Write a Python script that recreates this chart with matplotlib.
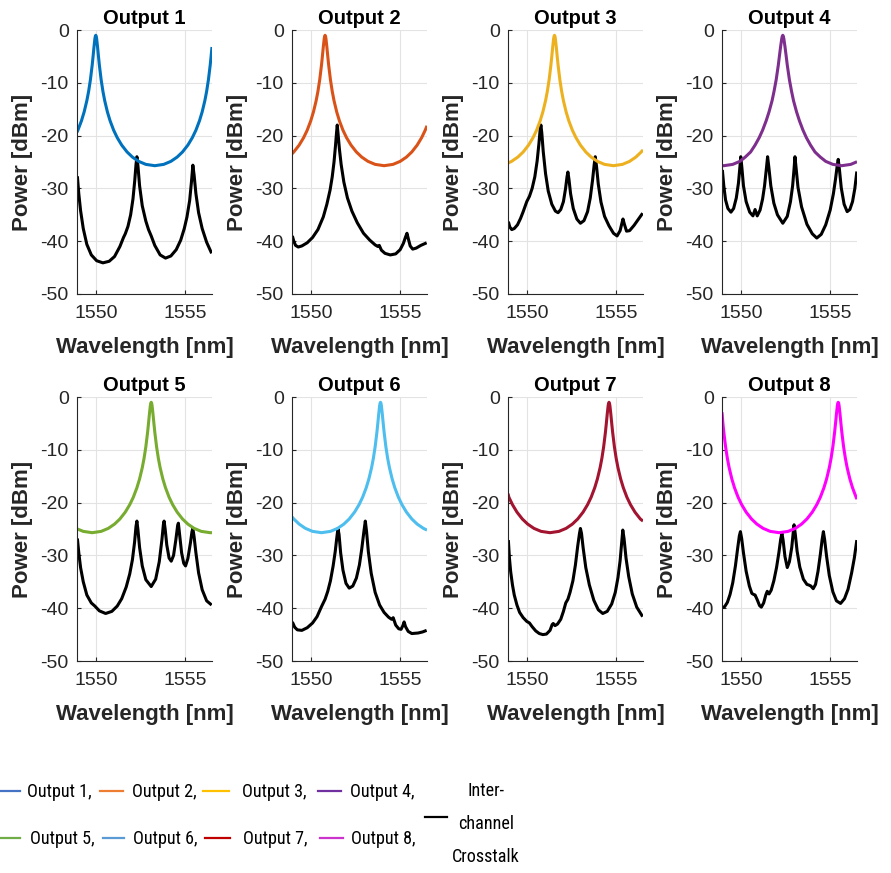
import matplotlib
matplotlib.use("Agg")
import matplotlib.pyplot as plt
from matplotlib import font_manager
from matplotlib.lines import Line2D

# ---------------- data ----------------
TITLES = ["Output 1", "Output 2", "Output 3", "Output 4",
          "Output 5", "Output 6", "Output 7", "Output 8"]
CURVE_COLORS = ["#0072BD", "#D95319", "#EDB120", "#7E2F8E",
                "#77AC30", "#4DBEEE", "#A2142F", "#FF00FF"]
LEGEND_COLORS = ["#4472C4", "#ED7D31", "#FFC000", "#7030A0",
                 "#70AD47", "#5B9BD5", "#C00000", "#CC33CC"]
LEGEND_LABELS = ["Output 1,", "Output 2,", "Output 3,", "Output 4,",
                 "Output 5,", "Output 6,", "Output 7,", "Output 8,"]
XTALK_LABEL = ["Inter-", "channel", "Crosstalk"]
XTICKS = [1550, 1555]
YTICKS = [0, -10, -20, -30, -40, -50]

OUT1 = [(1548.95, -19.36), (1549.0, -18.98), (1549.2, -17.19), (1549.35, -15.51), (1549.5, -13.39),
        (1549.6, -11.62), (1549.7, -9.42), (1549.8, -6.63), (1549.85, -4.97), (1549.9, -3.22),
        (1549.95, -1.67), (1549.975, -1.18), (1550.0, -1.0), (1550.025, -1.18), (1550.05, -1.67),
        (1550.1, -3.22), (1550.15, -4.97), (1550.2, -6.63), (1550.3, -9.42), (1550.4, -11.62),
        (1550.5, -13.39), (1550.65, -15.51), (1550.8, -17.19), (1551.0, -18.98), (1551.2, -20.39),
        (1551.45, -21.8), (1551.75, -23.1), (1552.05, -24.07), (1552.4, -24.88), (1552.8, -25.45),
        (1553.3, -25.7), (1553.8, -25.45), (1554.2, -24.88), (1554.55, -24.07), (1554.85, -23.1),
        (1555.15, -21.8), (1555.4, -20.39), (1555.6, -18.98), (1555.8, -17.19), (1555.95, -15.51),
        (1556.1, -13.39), (1556.2, -11.62), (1556.3, -9.42), (1556.4, -6.63), (1556.45, -4.97),
        (1556.5, -3.22)]
OUT2 = [(1548.95, -23.45), (1549.05, -23.1), (1549.35, -21.8), (1549.6, -20.39), (1549.8, -18.98),
        (1550.0, -17.19), (1550.15, -15.51), (1550.3, -13.39), (1550.4, -11.62), (1550.5, -9.42),
        (1550.6, -6.63), (1550.65, -4.97), (1550.7, -3.22), (1550.75, -1.67), (1550.775, -1.18),
        (1550.8, -1.0), (1550.825, -1.18), (1550.85, -1.67), (1550.9, -3.22), (1550.95, -4.97),
        (1551.0, -6.63), (1551.1, -9.42), (1551.2, -11.62), (1551.3, -13.39), (1551.45, -15.51),
        (1551.6, -17.19), (1551.8, -18.98), (1552.0, -20.39), (1552.25, -21.8), (1552.55, -23.1),
        (1552.85, -24.07), (1553.2, -24.88), (1553.6, -25.45), (1554.1, -25.7), (1554.6, -25.45),
        (1555.0, -24.88), (1555.35, -24.07), (1555.65, -23.1), (1555.95, -21.8), (1556.2, -20.39),
        (1556.4, -18.98), (1556.5, -18.14)]
OUT3 = [(1548.95, -25.21), (1549.15, -24.88), (1549.5, -24.07), (1549.8, -23.1), (1550.1, -21.8),
        (1550.35, -20.39), (1550.55, -18.98), (1550.75, -17.19), (1550.9, -15.51), (1551.05, -13.39),
        (1551.15, -11.62), (1551.25, -9.42), (1551.35, -6.63), (1551.4, -4.97), (1551.45, -3.22),
        (1551.5, -1.67), (1551.525, -1.18), (1551.55, -1.0), (1551.575, -1.18), (1551.6, -1.67),
        (1551.65, -3.22), (1551.7, -4.97), (1551.75, -6.63), (1551.85, -9.42), (1551.95, -11.62),
        (1552.05, -13.39), (1552.2, -15.51), (1552.35, -17.19), (1552.55, -18.98), (1552.75, -20.39),
        (1553.0, -21.8), (1553.3, -23.1), (1553.6, -24.07), (1553.95, -24.88), (1554.35, -25.45),
        (1554.85, -25.7), (1555.35, -25.45), (1555.75, -24.88), (1556.1, -24.07), (1556.4, -23.1),
        (1556.5, -22.7)]
OUT4 = [(1548.95, -25.68), (1549.05, -25.7), (1549.55, -25.45), (1549.95, -24.88), (1550.25, -24.07),
        (1550.55, -23.1), (1550.8, -21.8), (1551.03, -20.39), (1551.22, -18.98), (1551.42, -17.19),
        (1551.58, -15.51), (1551.75, -13.39), (1551.86, -11.62), (1551.98, -9.42), (1552.1, -6.63),
        (1552.16, -4.97), (1552.225, -3.22), (1552.29, -1.67), (1552.32, -1.18), (1552.35, -1.0),
        (1552.38, -1.18), (1552.41, -1.67), (1552.475, -3.22), (1552.54, -4.97), (1552.6, -6.63),
        (1552.72, -9.42), (1552.84, -11.62), (1552.95, -13.39), (1553.12, -15.51), (1553.28, -17.19),
        (1553.48, -18.98), (1553.67, -20.39), (1553.9, -21.8), (1554.15, -23.1), (1554.45, -24.07),
        (1554.75, -24.88), (1555.15, -25.45), (1555.65, -25.7), (1556.15, -25.45), (1556.5, -24.95)]
OUT5 = [(1548.95, -24.97), (1549.3, -25.45), (1549.8, -25.7), (1550.3, -25.45), (1550.7, -24.88),
        (1551.05, -24.07), (1551.35, -23.1), (1551.65, -21.8), (1551.9, -20.39), (1552.1, -18.98),
        (1552.3, -17.19), (1552.45, -15.51), (1552.6, -13.39), (1552.7, -11.62), (1552.8, -9.42),
        (1552.9, -6.63), (1552.95, -4.97), (1553.0, -3.22), (1553.05, -1.67), (1553.075, -1.18),
        (1553.1, -1.0), (1553.125, -1.18), (1553.15, -1.67), (1553.2, -3.22), (1553.25, -4.97),
        (1553.3, -6.63), (1553.4, -9.42), (1553.5, -11.62), (1553.6, -13.39), (1553.75, -15.51),
        (1553.9, -17.19), (1554.1, -18.98), (1554.3, -20.39), (1554.55, -21.8), (1554.85, -23.1),
        (1555.15, -24.07), (1555.5, -24.88), (1555.9, -25.45), (1556.4, -25.7), (1556.5, -25.69)]
OUT6 = [(1548.95, -22.7), (1549.05, -23.1), (1549.35, -24.07), (1549.7, -24.88), (1550.1, -25.45),
        (1550.6, -25.7), (1551.1, -25.45), (1551.5, -24.88), (1551.85, -24.07), (1552.15, -23.1),
        (1552.45, -21.8), (1552.7, -20.39), (1552.9, -18.98), (1553.1, -17.19), (1553.25, -15.51),
        (1553.4, -13.39), (1553.5, -11.62), (1553.6, -9.42), (1553.7, -6.63), (1553.75, -4.97),
        (1553.8, -3.22), (1553.85, -1.67), (1553.875, -1.18), (1553.9, -1.0), (1553.925, -1.18),
        (1553.95, -1.67), (1554.0, -3.22), (1554.05, -4.97), (1554.1, -6.63), (1554.2, -9.42),
        (1554.3, -11.62), (1554.4, -13.39), (1554.55, -15.51), (1554.7, -17.19), (1554.9, -18.98),
        (1555.1, -20.39), (1555.35, -21.8), (1555.65, -23.1), (1555.95, -24.07), (1556.3, -24.88),
        (1556.5, -25.21)]
OUT7 = [(1548.95, -18.3), (1549.0, -18.98), (1549.2, -20.39), (1549.45, -21.8), (1549.75, -23.1),
        (1550.05, -24.07), (1550.4, -24.88), (1550.8, -25.45), (1551.3, -25.7), (1551.8, -25.45),
        (1552.2, -24.88), (1552.55, -24.07), (1552.85, -23.1), (1553.15, -21.8), (1553.4, -20.39),
        (1553.6, -18.98), (1553.8, -17.19), (1553.95, -15.51), (1554.1, -13.39), (1554.2, -11.62),
        (1554.3, -9.42), (1554.4, -6.63), (1554.45, -4.97), (1554.5, -3.22), (1554.55, -1.67),
        (1554.575, -1.18), (1554.6, -1.0), (1554.625, -1.18), (1554.65, -1.67), (1554.7, -3.22),
        (1554.75, -4.97), (1554.8, -6.63), (1554.9, -9.42), (1555.0, -11.62), (1555.1, -13.39),
        (1555.25, -15.51), (1555.4, -17.19), (1555.6, -18.98), (1555.8, -20.39), (1556.05, -21.8),
        (1556.35, -23.1), (1556.5, -23.5)]
OUT8 = [(1548.95, -2.9), (1549.0, -4.97), (1549.05, -6.63), (1549.15, -9.42), (1549.25, -11.62),
        (1549.35, -13.39), (1549.5, -15.51), (1549.65, -17.19), (1549.85, -18.98), (1550.05, -20.39),
        (1550.3, -21.8), (1550.6, -23.1), (1550.9, -24.07), (1551.25, -24.88), (1551.65, -25.45),
        (1552.15, -25.7), (1552.65, -25.45), (1553.05, -24.88), (1553.4, -24.07), (1553.7, -23.1),
        (1554.0, -21.8), (1554.25, -20.39), (1554.45, -18.98), (1554.65, -17.19), (1554.8, -15.51),
        (1554.95, -13.39), (1555.05, -11.62), (1555.15, -9.42), (1555.25, -6.63), (1555.3, -4.97),
        (1555.35, -3.22), (1555.4, -1.67), (1555.425, -1.18), (1555.45, -1.0), (1555.475, -1.18),
        (1555.5, -1.67), (1555.55, -3.22), (1555.6, -4.97), (1555.65, -6.63), (1555.75, -9.42),
        (1555.85, -11.62), (1555.95, -13.39), (1556.1, -15.51), (1556.25, -17.19), (1556.45, -18.98),
        (1556.5, -19.36)]

XTALK1 = [(1548.97, -27.7), (1549.05, -31.0), (1549.15, -34.2), (1549.3, -37.6), (1549.5, -40.6), (1549.75, -42.6),
          (1550.05, -43.7), (1550.4, -44.1), (1550.75, -43.8), (1551.05, -42.9), (1551.35, -41.0), (1551.55, -39.3),
          (1551.65, -38.6), (1551.8, -37.2), (1551.95, -35.0), (1552.08, -32.0), (1552.18, -28.5), (1552.25, -25.5),
          (1552.3, -24.0), (1552.36, -25.8), (1552.45, -29.5), (1552.6, -33.3), (1552.8, -36.2), (1552.95, -37.8),
          (1553.1, -39.0), (1553.3, -40.8), (1553.6, -42.6), (1553.9, -43.2), (1554.2, -42.8), (1554.5, -41.6),
          (1554.75, -39.8), (1554.95, -37.6), (1555.1, -35.4), (1555.25, -32.3), (1555.35, -28.8), (1555.43, -25.6),
          (1555.5, -27.5), (1555.6, -31.0), (1555.75, -34.6), (1555.95, -37.6), (1556.2, -40.2), (1556.48, -42.3)]
XTALK2 = [(1548.97, -39.0), (1549.05, -40.0), (1549.15, -40.8), (1549.3, -41.1), (1549.5, -40.9), (1549.8, -40.3),
          (1550.1, -39.3), (1550.4, -37.8), (1550.7, -35.4), (1550.9, -33.0), (1551.08, -30.3), (1551.2, -27.8),
          (1551.3, -25.0), (1551.38, -22.0), (1551.44, -19.5), (1551.48, -18.0), (1551.53, -19.8), (1551.6, -22.5),
          (1551.7, -25.5), (1551.85, -28.8), (1552.05, -31.8), (1552.3, -34.3), (1552.6, -36.5), (1552.95, -38.5),
          (1553.3, -39.8), (1553.6, -40.7), (1553.75, -41.0), (1553.83, -40.8), (1553.95, -41.7), (1554.15, -42.3),
          (1554.45, -42.6), (1554.75, -42.4), (1555.0, -41.6), (1555.18, -40.4), (1555.3, -39.2), (1555.38, -38.5),
          (1555.46, -39.6), (1555.56, -40.9), (1555.7, -41.5), (1555.9, -41.3), (1556.15, -40.8), (1556.48, -40.3)]
XTALK3 = [(1548.97, -36.3), (1549.05, -37.3), (1549.16, -37.8), (1549.3, -37.6), (1549.48, -36.9), (1549.65, -35.7),
          (1549.8, -34.4), (1550.0, -32.5), (1550.15, -31.5), (1550.3, -30.0), (1550.45, -27.8), (1550.58, -24.8),
          (1550.68, -21.5), (1550.75, -18.8), (1550.79, -18.0), (1550.84, -19.5), (1550.92, -23.0), (1551.05, -27.2),
          (1551.2, -30.5), (1551.4, -33.0), (1551.6, -34.3), (1551.75, -34.6), (1551.9, -34.0), (1552.05, -32.5),
          (1552.17, -30.0), (1552.25, -27.8), (1552.3, -26.9), (1552.36, -28.3), (1552.45, -31.0), (1552.6, -33.8),
          (1552.8, -35.8), (1553.0, -36.6), (1553.2, -36.1), (1553.4, -34.4), (1553.55, -31.8), (1553.68, -28.4),
          (1553.77, -25.5), (1553.83, -24.0), (1553.9, -25.8), (1554.0, -29.2), (1554.15, -32.6), (1554.35, -35.3),
          (1554.6, -37.1), (1554.85, -38.5), (1555.05, -39.0), (1555.22, -38.0), (1555.32, -36.6), (1555.38, -35.8),
          (1555.46, -36.8), (1555.58, -38.1), (1555.75, -38.0), (1556.0, -37.0), (1556.25, -35.8), (1556.48, -34.7)]
XTALK4 = [(1548.97, -26.5), (1549.05, -29.5), (1549.15, -32.2), (1549.28, -33.8), (1549.45, -34.5), (1549.6, -33.8),
          (1549.75, -31.8), (1549.87, -29.0), (1549.95, -26.0), (1550.0, -24.0), (1550.06, -26.0), (1550.15, -29.5),
          (1550.3, -32.5), (1550.5, -34.5), (1550.68, -35.2), (1550.8, -34.0), (1550.92, -35.2), (1551.08, -34.1),
          (1551.22, -32.0), (1551.33, -29.5), (1551.44, -26.0), (1551.5, -24.0), (1551.57, -26.0), (1551.68, -29.5),
          (1551.85, -32.8), (1552.05, -35.0), (1552.35, -36.6), (1552.6, -35.3), (1552.78, -32.5), (1552.9, -29.5),
          (1552.98, -26.3), (1553.03, -24.0), (1553.09, -26.0), (1553.2, -29.8), (1553.4, -33.5), (1553.7, -36.8),
          (1554.0, -38.6), (1554.25, -39.4), (1554.5, -38.7), (1554.75, -36.9), (1555.0, -34.1), (1555.18, -31.0),
          (1555.3, -28.2), (1555.4, -25.5), (1555.45, -24.5), (1555.52, -26.5), (1555.62, -29.9), (1555.78, -33.0),
          (1555.95, -34.4), (1556.1, -34.0), (1556.25, -32.5), (1556.38, -30.0), (1556.49, -26.8)]
XTALK5 = [(1548.97, -26.8), (1549.05, -29.5), (1549.15, -32.3), (1549.3, -35.0), (1549.5, -37.5), (1549.75, -39.0),
          (1549.95, -39.6), (1550.2, -40.5), (1550.55, -41.0), (1550.9, -40.6), (1551.2, -39.6), (1551.45, -38.2),
          (1551.7, -36.0), (1551.9, -33.5), (1552.05, -30.8), (1552.17, -27.5), (1552.25, -24.5), (1552.3, -23.5),
          (1552.36, -25.2), (1552.45, -28.5), (1552.6, -32.0), (1552.8, -34.6), (1553.1, -35.9), (1553.35, -34.5),
          (1553.55, -31.2), (1553.7, -27.0), (1553.78, -24.2), (1553.82, -23.5), (1553.88, -25.0), (1553.97, -28.0),
          (1554.1, -30.5), (1554.22, -31.1), (1554.35, -30.0), (1554.48, -27.0), (1554.58, -24.3), (1554.62, -23.9),
          (1554.68, -25.8), (1554.8, -29.5), (1554.92, -31.5), (1555.02, -32.0), (1555.15, -30.6), (1555.3, -27.5),
          (1555.38, -25.5), (1555.43, -24.9), (1555.5, -26.5), (1555.6, -29.5), (1555.75, -33.3), (1555.95, -36.5),
          (1556.2, -38.6), (1556.48, -39.4)]
XTALK6 = [(1548.97, -42.6), (1549.1, -43.6), (1549.25, -44.1), (1549.5, -44.2), (1549.8, -43.7), (1550.1, -42.8),
          (1550.35, -41.6), (1550.6, -39.7), (1550.8, -38.3), (1550.95, -36.8), (1551.1, -34.8), (1551.25, -32.0),
          (1551.37, -29.2), (1551.45, -26.8), (1551.52, -24.9), (1551.58, -26.0), (1551.67, -29.5), (1551.8, -32.8),
          (1551.97, -35.3), (1552.15, -36.2), (1552.35, -35.8), (1552.55, -34.3), (1552.72, -31.8), (1552.85, -28.8),
          (1552.97, -25.5), (1553.05, -23.5), (1553.12, -25.5), (1553.22, -29.3), (1553.38, -33.4), (1553.6, -37.0),
          (1553.85, -39.4), (1554.1, -40.8), (1554.35, -41.7), (1554.52, -42.1), (1554.61, -41.8), (1554.75, -43.2),
          (1554.92, -43.9), (1555.05, -44.0), (1555.15, -43.3), (1555.22, -42.6), (1555.3, -43.5), (1555.45, -44.4),
          (1555.65, -44.8), (1556.0, -44.7), (1556.25, -44.5), (1556.48, -44.2)]
XTALK7 = [(1548.97, -27.1), (1549.03, -30.5), (1549.1, -33.1), (1549.2, -35.6), (1549.3, -37.5), (1549.45, -39.4),
          (1549.6, -40.8), (1549.8, -41.8), (1550.0, -42.5), (1550.15, -42.8), (1550.3, -43.5), (1550.5, -44.3),
          (1550.7, -44.8), (1550.9, -45.0), (1551.1, -44.9), (1551.3, -44.2), (1551.42, -43.1), (1551.48, -42.9),
          (1551.58, -43.3), (1551.72, -43.0), (1551.9, -42.1), (1552.05, -40.6), (1552.18, -39.0), (1552.3, -38.3),
          (1552.42, -37.0), (1552.58, -34.8), (1552.72, -31.8), (1552.85, -28.2), (1552.95, -25.8), (1553.0, -24.9),
          (1553.06, -25.8), (1553.15, -28.5), (1553.3, -32.3), (1553.5, -35.6), (1553.75, -38.5), (1554.0, -40.3),
          (1554.25, -41.0), (1554.5, -40.6), (1554.75, -39.2), (1554.95, -37.0), (1555.1, -34.2), (1555.22, -31.0),
          (1555.31, -27.5), (1555.37, -25.2), (1555.44, -26.8), (1555.55, -30.5), (1555.7, -34.0), (1555.9, -37.3),
          (1556.15, -39.8), (1556.48, -41.6)]
XTALK8 = [(1548.97, -39.9), (1549.1, -39.7), (1549.25, -38.9), (1549.4, -37.4), (1549.55, -35.2), (1549.7, -32.0),
          (1549.82, -28.8), (1549.92, -26.3), (1549.98, -25.5), (1550.05, -26.8), (1550.15, -29.5), (1550.3, -33.0),
          (1550.48, -35.8), (1550.62, -37.2), (1550.72, -37.4), (1550.8, -37.5), (1550.92, -38.4), (1551.05, -39.5),
          (1551.15, -39.8), (1551.28, -39.0), (1551.4, -37.5), (1551.48, -36.8), (1551.58, -37.3), (1551.7, -36.6),
          (1551.85, -34.8), (1552.0, -32.3), (1552.13, -29.5), (1552.23, -27.0), (1552.3, -25.8), (1552.37, -27.2),
          (1552.47, -30.2), (1552.6, -32.3), (1552.72, -31.2), (1552.85, -28.5), (1552.93, -25.8), (1552.98, -24.2),
          (1553.05, -26.0), (1553.15, -29.2), (1553.3, -32.2), (1553.5, -34.5), (1553.7, -35.5), (1553.8, -35.6),
          (1553.92, -35.8), (1554.05, -36.3), (1554.18, -35.5), (1554.32, -33.0), (1554.45, -29.8), (1554.55, -27.0),
          (1554.62, -25.5), (1554.69, -27.0), (1554.8, -30.2), (1554.95, -33.8), (1555.15, -36.9), (1555.35, -38.6),
          (1555.58, -39.1), (1555.8, -38.2), (1556.0, -36.4), (1556.2, -33.3), (1556.35, -30.5), (1556.49, -27.1)]

OUTPUTS = [OUT1, OUT2, OUT3, OUT4, OUT5, OUT6, OUT7, OUT8]
XTALKS = [XTALK1, XTALK2, XTALK3, XTALK4, XTALK5, XTALK6, XTALK7, XTALK8]

# ---------------- fonts ----------------
entries = font_manager.fontManager.ttflist
available = {f.name for f in entries}
MAIN_FONT = "Liberation Sans" if "Liberation Sans" in available else "DejaVu Sans"
plt.rcParams["font.family"] = [MAIN_FONT, "DejaVu Sans"]

leg_prop = None
for want in ["Liberation Sans Narrow", "Arial Narrow", "Roboto Condensed", "Open Sans Condensed"]:
    if want in available:
        leg_prop = font_manager.FontProperties(family=want)
        break
if leg_prop is None:
    cond = [f for f in entries if str(f.stretch) in ("condensed", "semi-condensed", "extra-condensed")
            or "Narrow" in f.name or "Condensed" in f.name]
    cond = [f for f in cond if f.weight in (400, "normal", "regular", "book")] or cond
    if cond:
        leg_prop = font_manager.FontProperties(fname=cond[0].fname)
if leg_prop is None:
    leg_prop = font_manager.FontProperties(family=MAIN_FONT)

W, H = 891, 873
fig = plt.figure(figsize=(W / 100, H / 100), dpi=100)
fig.patch.set_facecolor("white")

col_left = [77, 292, 508, 722]
row_top = [30, 397]
aw, ah = 135, 264
DARK = "#262626"

for i in range(8):
    r, c = divmod(i, 4)
    l, t = col_left[c], row_top[r]
    ax = fig.add_axes([l / W, 1 - (t + ah) / H, aw / W, ah / H])
    xs, ys = zip(*XTALKS[i])
    ax.plot(xs, ys, color="black", lw=2.2, solid_joinstyle="round", solid_capstyle="butt")
    xs, ys = zip(*OUTPUTS[i])
    ax.plot(xs, ys, color=CURVE_COLORS[i], lw=2.2, solid_joinstyle="round", solid_capstyle="butt")
    ax.set_xlim(1548.95, 1556.5)
    ax.set_ylim(-50, 0)
    ax.set_xticks(XTICKS)
    ax.set_yticks(YTICKS)
    ax.set_xticklabels([str(v) for v in XTICKS])
    ax.set_yticklabels([str(v) for v in YTICKS])
    ax.grid(True, color="#e3e3e3", lw=0.8)
    ax.set_axisbelow(True)
    for s in ["top", "right"]:
        ax.spines[s].set_visible(False)
    for s in ["left", "bottom"]:
        ax.spines[s].set_color(DARK)
        ax.spines[s].set_linewidth(0.8)
    ax.tick_params(direction="in", length=3, width=0.8, colors=DARK, labelsize=14)
    ax.tick_params(axis="x", pad=8)
    ax.tick_params(axis="y", pad=6)
    ax.set_title(TITLES[i], fontsize=14.5, fontweight="bold", pad=4, color="black")
    ax.set_xlabel("Wavelength [nm]", fontsize=16, fontweight="bold", color=DARK, labelpad=11)
    ax.set_ylabel("Power [dBm]", fontsize=16, fontweight="bold", color=DARK, labelpad=5)

# ---------------- legend (drawn manually, like the reference) ----------------
def fx(px):
    return px / W

def fy(py):
    return 1 - py / H

# size the legend font so that "Output 1," is ~65 px wide, like the reference
renderer = fig.canvas.get_renderer()
probe = fig.text(0, 0, "Output 1,", fontproperties=leg_prop, fontsize=14)
wpx = probe.get_window_extent(renderer=renderer).width
probe.remove()
leg_size = max(10.0, min(15.0, 14 * 65.0 / wpx))

rows_y = [791, 838]
line_x = [[(0, 20), (100, 123), (203, 229), (318, 341)],
          [(0, 20), (103, 124), (205, 230), (320, 343)]]
text_x = [[27, 132, 242, 350], [30, 133, 243, 351]]
for r in range(2):
    for c in range(4):
        k = r * 4 + c
        x0, x1 = line_x[r][c]
        fig.add_artist(Line2D([fx(x0), fx(x1)], [fy(rows_y[r]), fy(rows_y[r])],
                              color=LEGEND_COLORS[k], lw=1.6, transform=fig.transFigure))
        fig.text(fx(text_x[r][c]), fy(rows_y[r] + 1), LEGEND_LABELS[k], fontproperties=leg_prop,
                 fontsize=leg_size, ha="left", va="center", color="black")

fig.add_artist(Line2D([fx(425), fx(447)], [fy(817), fy(817)], color="black", lw=1.6,
                      transform=fig.transFigure))
for txt, py in zip(XTALK_LABEL, [791, 824, 857]):
    fig.text(fx(486), fy(py), txt, fontproperties=leg_prop, fontsize=leg_size,
             ha="center", va="center", color="black")

fig.savefig("out.png", dpi=100, facecolor="white")
